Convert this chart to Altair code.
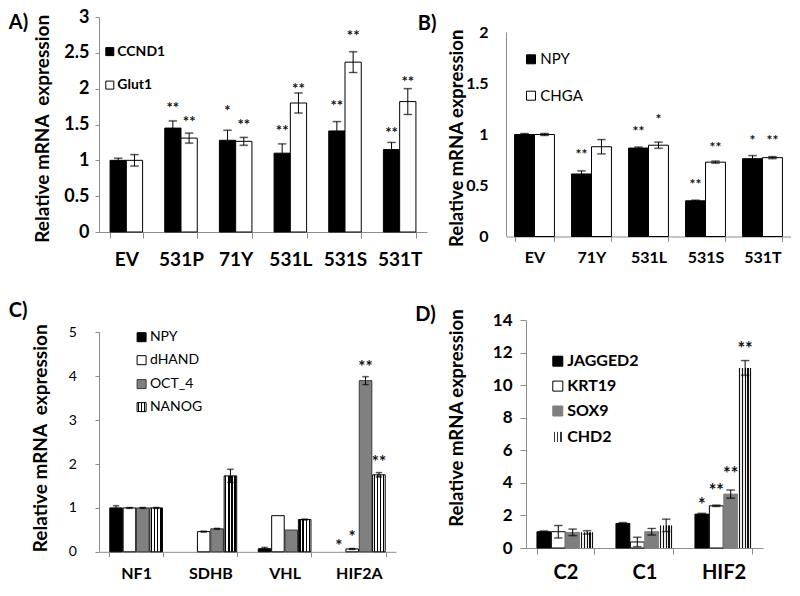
import altair as alt
import pandas as pd

FONT = "Lato"
AXIS_GREY = "#8c8c8c"

# ---------------- Panel A data ----------------
a_cats = ["EV", "531P", "71Y", "531L", "531S", "531T"]
a_series = ["CCND1", "Glut1"]
a_ccnd1 = [1.00, 1.45, 1.28, 1.10, 1.41, 1.15]
a_ccnd1_err = [0.03, 0.10, 0.14, 0.13, 0.13, 0.10]
a_ccnd1_star = ["", "**", "*", "**", "**", "**"]
a_ccnd1_star_y = [0, 1.77, 1.73, 1.45, 1.80, 1.43]
a_glut1 = [1.00, 1.31, 1.265, 1.80, 2.37, 1.82]
a_glut1_err = [0.08, 0.07, 0.055, 0.14, 0.145, 0.18]
a_glut1_star = ["", "**", "**", "**", "**", "**"]
a_glut1_star_y = [0, 1.57, 1.54, 2.04, 2.77, 2.14]
a_ticks = [0, 0.5, 1, 1.5, 2, 2.5, 3]

# ---------------- Panel B data ----------------
b_cats = ["EV", "71Y", "531L", "531S", "531T"]
b_series = ["NPY", "CHGA"]
b_npy = [1.00, 0.613, 0.867, 0.35, 0.763]
b_npy_err = [0.01, 0.03, 0.01, 0.006, 0.03]
b_npy_star = ["", "**", "**", "**", "*"]
b_npy_star_y = [0, 0.83, 1.05, 0.53, 0.97]
b_chga = [1.00, 0.88, 0.895, 0.729, 0.773]
b_chga_err = [0.01, 0.07, 0.03, 0.01, 0.01]
b_chga_star = ["", "", "*", "**", "**"]
b_chga_star_y = [0, 0, 1.17, 0.90, 0.97]
b_ticks = [0, 0.5, 1, 1.5, 2]

# ---------------- Panel C data ----------------
c_cats = ["NF1", "SDHB", "VHL", "HIF2A"]
c_series = ["NPY", "dHAND", "OCT_4", "NANOG"]
c_npy = [1.00, 0.0, 0.07, 0.0]
c_npy_err = [0.05, 0, 0.03, 0]
c_npy_star = ["", "", "", "*"]
c_npy_star_y = [0, 0, 0, 0.19]
c_dhand = [1.00, 0.46, 0.823, 0.065]
c_dhand_err = [0.01, 0.01, 0, 0.01]
c_dhand_star = ["", "", "", "*"]
c_dhand_star_y = [0, 0, 0, 0.41]
c_oct4 = [1.00, 0.524, 0.495, 3.90]
c_oct4_err = [0.01, 0.01, 0, 0.09]
c_oct4_star = ["", "", "", "**"]
c_oct4_star_y = [0, 0, 0, 4.28]
c_nanog = [1.00, 1.73, 0.735, 1.754]
c_nanog_err = [0.01, 0.15, 0.01, 0.05]
c_nanog_star = ["", "", "", "**"]
c_nanog_star_y = [0, 0, 0, 2.12]
c_ticks = [0, 1, 2, 3, 4, 5]

# ---------------- Panel D data ----------------
d_cats = ["C2", "C1", "HIF2"]
d_series = ["JAGGED2", "KRT19", "SOX9", "CHD2"]
d_jagged2 = [1.00, 1.51, 2.08]
d_jagged2_err = [0.05, 0.05, 0.05]
d_jagged2_star = ["", "", "*"]
d_jagged2_star_y = [0, 0, 2.82]
d_krt19 = [1.00, 0.37, 2.59]
d_krt19_err = [0.38, 0.29, 0.04]
d_krt19_star = ["", "", "**"]
d_krt19_star_y = [0, 0, 3.67]
d_sox9 = [0.96, 1.00, 3.31]
d_sox9_err = [0.20, 0.20, 0.25]
d_sox9_star = ["", "", "**"]
d_sox9_star_y = [0, 0, 4.73]
d_chd2 = [0.96, 1.39, 11.06]
d_chd2_err = [0.10, 0.38, 0.45]
d_chd2_star = ["", "", "**"]
d_chd2_star_y = [0, 0, 12.39]
d_ticks = [0, 2, 4, 6, 8, 10, 12, 14]


def long_df(cats, series, values, errs, stars, star_ys):
    rows = []
    for s, v, e, st, sy in zip(series, values, errs, stars, star_ys):
        for c, vi, ei, sti, syi in zip(cats, v, e, st, sy):
            rows.append(dict(cat=c, series=s, value=vi, err=ei, lo=vi - ei, hi=vi + ei,
                             star=sti, star_y=syi))
    return pd.DataFrame(rows)


def stripe_gradient(n, dark, light, frac):
    stops = [{"offset": 0.0, "color": light}]
    for k in range(n):
        mid = (k + 0.5) / n
        half = frac / n / 2
        stops += [
            {"offset": mid - half, "color": light},
            {"offset": mid - half, "color": dark},
            {"offset": mid + half, "color": dark},
            {"offset": mid + half, "color": light},
        ]
    stops.append({"offset": 1.0, "color": light})
    return {"gradient": "linear", "x1": 0, "y1": 0, "x2": 1, "y2": 0, "stops": stops}


ONE = pd.DataFrame({"k": [0]})


def build_panel(P):
    df = P["df"]
    cats, series = P["cats"], P["series"]
    striped = P.get("striped")
    n = len(series)
    step = P["W"] / len(cats)
    band_px = step * (1 - P["pad"])
    slot = band_px / n
    bw = slot * (1 - P["xo_pad"])

    xs = alt.Scale(type="band", domain=cats, paddingInner=P["pad"], paddingOuter=P["pad"] / 2)
    x_axis = alt.Axis(
        title=None, labelAngle=0, labelFont=FONT, labelFontSize=P["xlab_size"],
        labelFontWeight="bold", labelColor="black", labelPadding=P["xlab_pad"],
        tickBand="extent", tickSize=P["xtick"], tickColor=AXIS_GREY,
        domainColor=AXIS_GREY, grid=False,
    )
    X = alt.X("cat:N", scale=xs, axis=x_axis)
    ys = alt.Scale(domain=[0, P["ymax"]], nice=False)
    y_axis_kw = dict(
        values=P["ticks"], format="~g", title=P["title"], titleX=P["titleX"], titleY=P["titleY"],
        titleFont=FONT, titleFontSize=P["title_size"], titleFontWeight="bold", titleColor="black",
        labelFont=FONT, labelFontSize=P["ylab_size"], labelFontWeight=P["ylab_weight"],
        labelColor="black", labelPadding=P["ylab_pad"], tickColor=AXIS_GREY,
        domainColor=AXIS_GREY, grid=False, labelOverlap=False, domain=not P["own_domain"],
    )
    if P["ytick"] > 0:
        y_axis_kw["tickSize"] = P["ytick"]
    else:
        y_axis_kw["ticks"] = False
    y_axis = alt.Axis(**y_axis_kw)

    def Y(field):
        return alt.Y(field, scale=ys, axis=y_axis)

    layers = []
    offsets = {s: (i - (n - 1) / 2) * slot for i, s in enumerate(series)}
    # bars
    for s in series:
        if s == striped:
            kw = dict(fill=P["stripe_fill"])
            if P.get("stripe_stroke"):
                kw.update(stroke=P["stripe_stroke"], strokeWidth=1)
        else:
            kw = dict(fill=P["fills"][s], stroke=P["strokes"][s], strokeWidth=1)
        layers.append(
            alt.Chart(df).transform_filter(alt.datum.series == s).transform_filter(alt.datum.value > 0)
            .mark_bar(width=bw, xOffset=offsets[s], **kw).encode(x=X, y=Y("value:Q"))
        )
    if P["own_domain"]:
        layers.append(
            alt.Chart(pd.DataFrame({"lo": [0], "hi": [P["ticks"][-1]]})).mark_rule(
                stroke=AXIS_GREY, strokeWidth=1).encode(x=alt.value(0.5), y=Y("lo:Q"), y2="hi:Q")
        )
    # error bars
    for s in series:
        eb = alt.Chart(df).transform_filter(alt.datum.series == s).transform_filter(alt.datum.err > 0)
        layers.append(eb.mark_rule(stroke="black", strokeWidth=1, xOffset=offsets[s]).encode(
            x=X, y=Y("lo:Q"), y2="hi:Q"))
        for f in ["lo:Q", "hi:Q"]:
            layers.append(eb.mark_tick(fill="black", stroke="black", strokeWidth=0.4, thickness=1,
                                       size=P["cap"], orient="horizontal", xOffset=offsets[s]).encode(
                x=X, y=Y(f)))
    # significance stars
    for s in series:
        layers.append(
            alt.Chart(df).transform_filter(alt.datum.series == s).transform_filter(alt.datum.star != "")
            .mark_text(font=FONT, fontSize=P["star_size"], fontWeight="bold", fill="#111111",
                       baseline="middle", dy=P["star_dy"], xOffset=offsets[s])
            .encode(x=X, y=Y("star_y:Q"), text="star:N")
        )
    # legend
    half = P["leg_box"] / 2
    for i, s in enumerate(series):
        cy = P["leg_y"][i]
        if s == striped:
            kw = dict(fill=P["leg_stripe_fill"])
            if P.get("stripe_stroke"):
                kw.update(stroke="black", strokeWidth=1)
        else:
            kw = dict(fill=P["fills"][s], stroke=P["strokes"][s], strokeWidth=1)
        layers.append(alt.Chart(ONE).mark_rect(**kw).encode(
            x=alt.value(P["leg_x"] - half), x2=alt.value(P["leg_x"] + half),
            y=alt.value(cy - half), y2=alt.value(cy + half)))
        layers.append(alt.Chart(ONE).mark_text(
            align="left", baseline="middle", font=FONT, fontSize=P["leg_size"],
            fontWeight=P["leg_weight"], fill="black").encode(
            x=alt.value(P["leg_tx"]), y=alt.value(cy), text=alt.value(s)))
    layers.append(alt.Chart(ONE).mark_text(
        align="left", baseline="middle", font=FONT, fontSize=20, fontWeight="bold", fill="black"
    ).encode(x=alt.value(P["lab_x"]), y=alt.value(P["lab_y"]), text=alt.value(P["letter"])))
    return alt.layer(*layers).properties(width=P["W"], height=P["H"])


PA = dict(
    df=long_df(a_cats, a_series, [a_ccnd1, a_glut1], [a_ccnd1_err, a_glut1_err],
               [a_ccnd1_star, a_glut1_star], [a_ccnd1_star_y, a_glut1_star_y]),
    cats=a_cats, series=a_series, W=328, H=215, pad=0.405, xo_pad=0, ymax=3, ticks=a_ticks,
    own_domain=False,
    title="Relative mRNA\u00a0 expression", titleX=-47, titleY=111.3, title_size=19,
    ylab_size=18, ylab_weight="bold", ylab_pad=6, ytick=4,
    xlab_size=19, xlab_pad=12, xtick=6, cap=8, star_size=15, star_dy=3,
    fills={"CCND1": "black", "Glut1": "white"}, strokes={"CCND1": "black", "Glut1": "black"},
    leg_x=10.8, leg_box=8, leg_tx=18.3, leg_y=[34.6, 68.1], leg_size=14, leg_weight="bold",
    letter="A)", lab_x=-90.2, lab_y=5.9,
)

PB = dict(
    df=long_df(b_cats, b_series, [b_npy, b_chga], [b_npy_err, b_chga_err],
               [b_npy_star, b_chga_star], [b_npy_star_y, b_chga_star_y]),
    cats=b_cats, series=b_series, W=285, H=219.5, pad=0.3, xo_pad=0, ymax=2.152, ticks=b_ticks,
    own_domain=True,
    title="Relative mRNA expression", titleX=-39.5, titleY=120.8, title_size=18.5,
    ylab_size=16, ylab_weight="bold", ylab_pad=18, ytick=0,
    xlab_size=16, xlab_pad=8, xtick=5, cap=8, star_size=14, star_dy=3,
    fills={"NPY": "black", "CHGA": "white"}, strokes={"NPY": "black", "CHGA": "black"},
    leg_x=25, leg_box=9, leg_tx=34.3, leg_y=[42.3, 78.7], leg_size=15, leg_weight="normal",
    letter="B)", lab_x=-88.2, lab_y=7.3,
)

PC = dict(
    df=long_df(c_cats, c_series, [c_npy, c_dhand, c_oct4, c_nanog],
               [c_npy_err, c_dhand_err, c_oct4_err, c_nanog_err],
               [c_npy_star, c_dhand_star, c_oct4_star, c_nanog_star],
               [c_npy_star_y, c_dhand_star_y, c_oct4_star_y, c_nanog_star_y]),
    cats=c_cats, series=c_series, W=297, H=231.8, pad=0.28, xo_pad=0.06, ymax=5.282, ticks=c_ticks,
    own_domain=True,
    title="Relative mRNA\u00a0 expression", titleX=-48.7, titleY=117.8, title_size=19,
    ylab_size=14, ylab_weight="normal", ylab_pad=18.6, ytick=4,
    xlab_size=16, xlab_pad=8.5, xtick=5, cap=6, star_size=17, star_dy=4,
    fills={"NPY": "black", "dHAND": "white", "OCT_4": "#808080"},
    strokes={"NPY": "black", "dHAND": "black", "OCT_4": "#3a3a3a"},
    striped="NANOG", stripe_fill=stripe_gradient(4, "black", "white", 0.42), stripe_stroke="black",
    leg_stripe_fill=stripe_gradient(3, "black", "white", 0.45),
    leg_x=42.6, leg_box=9, leg_tx=50.9, leg_y=[17.2, 40.2, 64.1, 87.1], leg_size=14, leg_weight="normal",
    letter="C)", lab_x=-90.2, lab_y=-8.7,
)

PD = dict(
    df=long_df(d_cats, d_series, [d_jagged2, d_krt19, d_sox9, d_chd2],
               [d_jagged2_err, d_krt19_err, d_sox9_err, d_chd2_err],
               [d_jagged2_star, d_krt19_star, d_sox9_star, d_chd2_star],
               [d_jagged2_star_y, d_krt19_star_y, d_sox9_star_y, d_chd2_star_y]),
    cats=d_cats, series=d_series, W=237, H=228, pad=0.27, xo_pad=0.04, ymax=14, ticks=d_ticks,
    own_domain=False,
    title="Relative mRNA expression", titleX=-60, titleY=97.6, title_size=18.5,
    ylab_size=17, ylab_weight="bold", ylab_pad=8, ytick=6,
    xlab_size=20, xlab_pad=8, xtick=6, cap=8, star_size=18, star_dy=4,
    fills={"JAGGED2": "black", "KRT19": "white", "SOX9": "#7f7f7f"},
    strokes={"JAGGED2": "black", "KRT19": "black", "SOX9": "#7f7f7f"},
    striped="CHD2", stripe_fill=stripe_gradient(5, "#111111", "#ececec", 0.45),
    leg_stripe_fill=stripe_gradient(3, "#333333", "white", 0.4),
    leg_x=31.8, leg_box=10, leg_tx=41.2, leg_y=[41.2, 66.1, 91, 116.9], leg_size=16, leg_weight="bold",
    letter="D)", lab_x=-110.7, lab_y=-4.8,
)

row1 = alt.hconcat(build_panel(PA), build_panel(PB), spacing=-10)
row2 = alt.hconcat(build_panel(PC), build_panel(PD), spacing=19)
chart = (
    alt.vconcat(row1, row2, spacing=32, center=False)
    .properties(padding=0, background="white")
    .configure_view(stroke=None)
)
chart.save("out.html", embed_options={"renderer": "svg", "actions": False})
